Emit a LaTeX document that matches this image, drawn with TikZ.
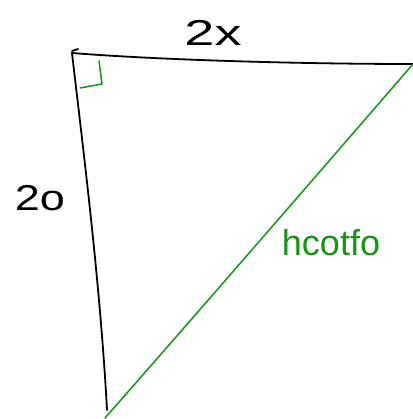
\documentclass[tikz,border=0pt]{standalone}
\usepackage{fontspec}
\setmainfont{Liberation Sans}
\definecolor{hgreen}{RGB}{20,150,20}
\begin{document}
\begin{tikzpicture}[x=1pt,y=-1pt,
  edge/.style={line width=1.8pt,line cap=round,line join=round},
  lbl/.style={inner sep=0pt,font=\fontsize{36}{36}\selectfont}]
\useasboundingbox[fill=white] (0,0) rectangle (412,419);
\coordinate (A) at (72,53);
\coordinate (B) at (413,64);
\coordinate (C) at (107,410);
\coordinate (H) at (105,418);
\coordinate (R1) at (99,61);
\coordinate (R2) at (102,84);
\coordinate (R3) at (80,88);
\draw[edge,black] (A) .. controls (160,60) and (300,64) .. (B);
\draw[edge,black] (A) .. controls (82,140) and (100,280) .. (C);
\draw[edge,black] (72,51) -- (78,49);
\draw[edge,hgreen,line width=1.5pt] (H) .. controls (200,310) and (330,160) .. (B);
\draw[edge,hgreen,line width=1.5pt] (R1) -- (R2) -- (R3);
\node[lbl] (lx) at (213,33) {\scalebox{1.5}[1]{2x}};
\node[lbl] (lo) at (40,198) {\scalebox{1.25}[1]{2o}};
\node[lbl,text=hgreen] (lh) at (331,243) {hcotfo};
\end{tikzpicture}
\end{document}
